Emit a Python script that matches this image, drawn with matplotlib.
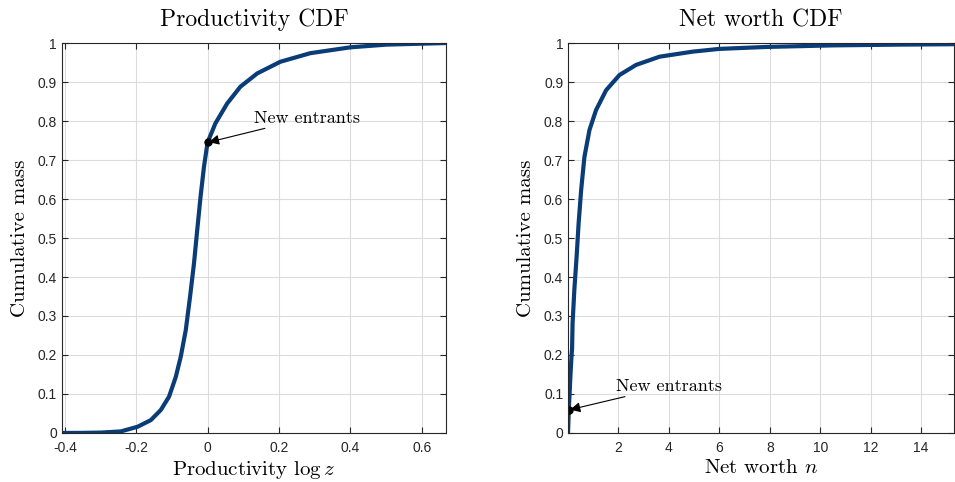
import numpy as np
from matplotlib import pyplot as plt

plt.rcParams['mathtext.fontset'] = 'cm'
plt.rcParams['axes.unicode_minus'] = False

# productivity CDF (log z, cumulative mass)
logz = [-0.408, -0.35, -0.299, -0.243, -0.196, -0.159, -0.131, -0.108,
        -0.089, -0.075, -0.061, -0.049, -0.038, -0.029, -0.0196, -0.010,
        0.0, 0.022, 0.055, 0.092, 0.139, 0.204, 0.288, 0.40, 0.502, 0.668]
cdf_z = [0.0, 0.0003, 0.001, 0.004, 0.016, 0.033, 0.059, 0.093, 0.144,
         0.196, 0.264, 0.35, 0.435, 0.52, 0.606, 0.683, 0.745, 0.794,
         0.845, 0.888, 0.922, 0.952, 0.974, 0.989, 0.996, 1.0]

# net worth CDF
nw = [0.0, 0.03, 0.10, 0.14, 0.16, 0.18, 0.25, 0.34, 0.42, 0.52, 0.65,
      0.85, 1.11, 1.51, 2.04, 2.70, 3.63, 4.95, 6.0, 7.87, 10.5, 13.2,
      15.3]
cdf_n = [0.0, 0.059, 0.153, 0.20, 0.215, 0.281, 0.367, 0.452, 0.538,
         0.623, 0.708, 0.777, 0.828, 0.879, 0.918, 0.944, 0.965, 0.978,
         0.985, 0.99, 0.994, 0.996, 0.997]

entrant_z = (0.0, 0.745)
entrant_n = (0.03, 0.059)

yticks = np.arange(0, 11) / 10
ytick_labels = ['0', '0.1', '0.2', '0.3', '0.4', '0.5', '0.6', '0.7',
                '0.8', '0.9', '1']
xticks_z = [-0.4, -0.2, 0, 0.2, 0.4, 0.6]
xtick_labels_z = ['-0.4', '-0.2', '0', '0.2', '0.4', '0.6']
xticks_n = [2, 4, 6, 8, 10, 12, 14]

line_color = '#0a3c78'
axis_color = '#262626'

fig = plt.figure(figsize=(9.55, 4.82), dpi=100)
ax1 = fig.add_axes([0.0649, 0.1017, 0.402, 0.809])
ax2 = fig.add_axes([0.5948, 0.1017, 0.404, 0.809])


def style(ax):
    ax.set_ylim(0, 1)
    ax.set_yticks(yticks)
    ax.set_yticklabels(ytick_labels)
    ax.grid(True, color='#dcdcdc', linewidth=0.8)
    ax.set_axisbelow(True)
    ax.tick_params(direction='in', top=True, right=True, length=4,
                   width=0.8, colors=axis_color, labelsize=10)
    ax.tick_params(axis='x', pad=6)
    for lab in ax.get_xticklabels() + ax.get_yticklabels():
        lab.set_family('Liberation Sans')
    for sp in ax.spines.values():
        sp.set_color(axis_color)
        sp.set_linewidth(0.8)
    ax.set_ylabel('Cumulative mass', family='cmr10', fontsize=15,
                  labelpad=6)


ax1.plot(logz, cdf_z, color=line_color, linewidth=3)
ax1.plot(*entrant_z, 'o', color='k', markersize=5)
ax1.set_xlim(-0.408, 0.668)
ax1.set_xticks(xticks_z)
ax1.set_xticklabels(xtick_labels_z)
style(ax1)
ax1.set_title('Productivity CDF', family='cmr10', fontsize=17, pad=12)
ax1.set_xlabel(r'Productivity $\log z$', family='cmr10', fontsize=15,
               labelpad=3)
ax1.annotate('New entrants', xy=entrant_z, xytext=(0.131, 0.808),
             family='cmr10', fontsize=13, ha='left', va='center',
             arrowprops=dict(arrowstyle='-|>', color='k', lw=0.8,
                             mutation_scale=15, shrinkA=0, shrinkB=1))

ax2.plot(nw, cdf_n, color=line_color, linewidth=3)
ax2.plot(*entrant_n, 'o', color='k', markersize=5)
ax2.set_xlim(0, 15.3)
ax2.set_xticks(xticks_n)
style(ax2)
ax2.set_title('Net worth CDF', family='cmr10', fontsize=17, pad=12)
ax2.set_xlabel(r'Net worth $n$', family='cmr10', fontsize=15,
               labelpad=3)
ax2.annotate('New entrants', xy=entrant_n, xytext=(1.9, 0.12),
             family='cmr10', fontsize=13, ha='left', va='center',
             arrowprops=dict(arrowstyle='-|>', color='k', lw=0.8,
                             mutation_scale=15, shrinkA=0, shrinkB=1))

fig.savefig('out.png', dpi=100)
